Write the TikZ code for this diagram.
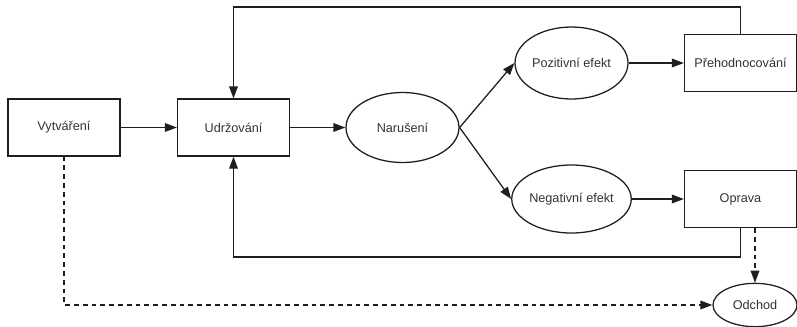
\documentclass[tikz,border=0pt]{standalone}
\usepackage{fontspec}
\setmainfont{Liberation Sans}
\usetikzlibrary{arrows.meta,shapes.geometric}
\definecolor{ln}{HTML}{1E1E1E}
\definecolor{tx}{HTML}{333333}
\tikzset{
  base/.style={draw=ln, line width=0.95pt, text=tx, font=\fontsize{9.5}{11}\selectfont, inner sep=0pt},
  boxn/.style={base, rectangle, minimum width=84pt, minimum height=42.75pt},
  ell/.style={base, ellipse, minimum width=84.75pt, minimum height=52.5pt},
  arr/.style={draw=ln, line width=0.95pt, -{Triangle[length=9pt,width=6.5pt]}},
  dsh/.style={arr, dash pattern=on 3.6pt off 3pt}
}
\begin{document}
\begin{tikzpicture}[x=0.75pt,y=-0.75pt]
\useasboundingbox (0,0) rectangle (797,326);
\clip (0,0) rectangle (797,326);
\node[boxn] (vyt) at (64,127.5) {Vytváření};
\node[boxn] (udr) at (233.5,127.5) {Udržování};
\node[ell] (nar) at (402.5,127.5) {Narušení};
\node[ell, minimum height=54pt] (poz) at (571.5,63) {Pozitivní efekt};
\node[ell, minimum height=51pt] (neg) at (571.5,199) {Negativní efekt};
\node[boxn] (preh) at (740.5,63) {Přehodnocování};
\node[boxn] (opr) at (740.5,199) {Oprava};
\node[base, ellipse, minimum width=63pt, minimum height=32.5pt] (odch) at (755,305) {Odchod};
\coordinate (topc) at (400,7);
\coordinate (botc) at (400,257);
\draw[arr] (vyt.east) -- (udr.west);
\draw[arr] (udr.east) -- (nar.west);
\draw[arr] (nar.east) -- (poz.west);
\draw[arr] (nar.east) -- (neg.west);
\draw[arr] (poz.east) -- (preh.west);
\draw[arr] (neg.east) -- (opr.west);
\draw[arr] (preh.north) |- (topc) -| (udr.north);
\draw[arr] (opr.south) |- (botc) -| (udr.south);
\draw[dsh] (opr.south -| odch.north) -- (odch.north);
\draw[dsh] (vyt.south) |- (odch.west);
\end{tikzpicture}
\end{document}
